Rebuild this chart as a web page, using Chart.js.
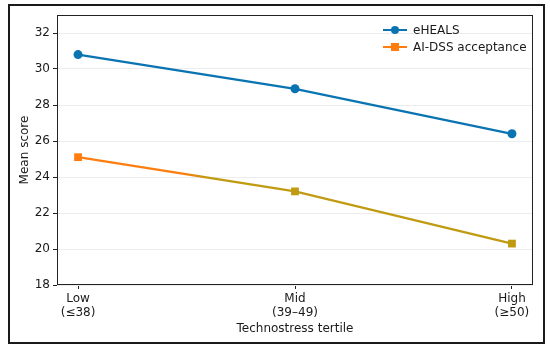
<!DOCTYPE html>
<html>
<head>
<meta charset="utf-8">
<script src="https://cdn.jsdelivr.net/npm/chart.js@4/dist/chart.umd.min.js"></script>
<style>
  body { margin: 0; background: #fff; }
  #wrap { position: relative; width: 550px; height: 348px; }
  #frame { position: absolute; left: 8px; top: 4px; width: 533px; height: 336px; border: 2px solid #1a1a1a; pointer-events: none; }
</style>
</head>
<body>
<div id="wrap">
  <canvas id="chart" width="550" height="348"></canvas>
  <div id="frame"></div>
</div>
<script>
const tertiles = [["Low", "(≤38)"], ["Mid", "(39–49)"], ["High", "(≥50)"]];
const eheals = [30.8, 28.9, 26.4];
const aidss = [25.1, 23.2, 20.3];
const yTicks = [18, 20, 22, 24, 26, 28, 30, 32];

const FONT = "'DejaVu Sans', sans-serif";
const BLUE = "#0a74b2";
const ORANGE = "#ff7d0f";
const OLIVE = "#c09a10";

function points(vals) {
  return vals.map((v, i) => ({ x: i, y: v }));
}

// orange fading into olive along the AI-DSS line, like the reference
function aiGradient(ctx) {
  const chart = ctx.chart;
  const area = chart.chartArea;
  if (!area) return ORANGE;
  const xs = chart.scales.x;
  const g = chart.ctx.createLinearGradient(xs.getPixelForValue(0), 0, xs.getPixelForValue(2), 0);
  g.addColorStop(0, ORANGE);
  g.addColorStop(0.24, ORANGE);
  g.addColorStop(0.3, OLIVE);
  g.addColorStop(1, OLIVE);
  return g;
}

const frameAndLegend = {
  id: "frameAndLegend",
  afterDraw(chart) {
    const c = chart.ctx;
    const a = chart.chartArea;
    c.save();
    c.strokeStyle = "#222";
    c.lineWidth = 1;
    c.strokeRect(a.left + 0.5, a.top + 0.5, a.right - a.left - 1, a.bottom - a.top - 1);

    const items = [
      { label: "eHEALS", color: BLUE, shape: "circle" },
      { label: "AI-DSS acceptance", color: ORANGE, shape: "square" }
    ];
    c.font = "12px " + FONT;
    c.textBaseline = "middle";
    items.forEach((it, i) => {
      const y = 30 + i * 17;
      c.strokeStyle = it.color;
      c.lineWidth = 2;
      c.beginPath();
      c.moveTo(383, y);
      c.lineTo(407, y);
      c.stroke();
      c.fillStyle = it.color;
      if (it.shape === "circle") {
        c.beginPath();
        c.arc(395, y, 4, 0, Math.PI * 2);
        c.fill();
      } else {
        c.fillRect(391, y - 4, 8, 8);
      }
      c.fillStyle = "#1a1a1a";
      c.fillText(it.label, 413, y + 0.5);
    });
    c.restore();
  }
};

new Chart(document.getElementById("chart"), {
  type: "line",
  data: {
    datasets: [
      {
        label: "eHEALS",
        data: points(eheals),
        borderColor: BLUE,
        backgroundColor: BLUE,
        borderWidth: 2.2,
        pointStyle: "circle",
        pointRadius: 4.5,
        pointHoverRadius: 4.5,
        pointBorderWidth: 0
      },
      {
        label: "AI-DSS acceptance",
        data: points(aidss),
        borderColor: aiGradient,
        backgroundColor: [ORANGE, OLIVE, OLIVE],
        borderWidth: 2.2,
        pointStyle: "rect",
        pointRadius: 5.5,
        pointHoverRadius: 5.5,
        pointBorderWidth: 0
      }
    ]
  },
  options: {
    responsive: false,
    animation: false,
    layout: { padding: { left: 18, top: 15, right: 17, bottom: 12 } },
    plugins: { legend: { display: false }, tooltip: { enabled: false } },
    scales: {
      x: {
        type: "linear",
        min: -0.097,
        max: 2.097,
        afterBuildTicks(s) { s.ticks = [0, 1, 2].map(v => ({ value: v })); },
        afterFit(s) { s.height = 51; },
        grid: { drawOnChartArea: false, color: "#222", tickLength: 4 },
        border: { display: false },
        ticks: {
          color: "#1a1a1a",
          padding: 3,
          maxRotation: 0,
          font: { family: FONT, size: 12, lineHeight: 1.15 },
          callback: v => tertiles[v]
        },
        title: {
          display: true,
          text: "Technostress tertile",
          color: "#1a1a1a",
          font: { family: FONT, size: 12 },
          padding: { top: 1, bottom: 0 }
        }
      },
      y: {
        min: 18,
        max: 33,
        afterBuildTicks(s) { s.ticks = yTicks.map(v => ({ value: v })); },
        afterFit(s) { s.width = 39; },
        grid: { color: "#ececec", tickColor: "#222", tickLength: 4 },
        border: { display: false },
        ticks: {
          color: "#1a1a1a",
          padding: 3,
          font: { family: FONT, size: 12 }
        },
        title: {
          display: true,
          text: "Mean score",
          color: "#1a1a1a",
          font: { family: FONT, size: 12 },
          padding: { top: 0, bottom: 2 }
        }
      }
    }
  },
  plugins: [frameAndLegend]
});
</script>
</body>
</html>
